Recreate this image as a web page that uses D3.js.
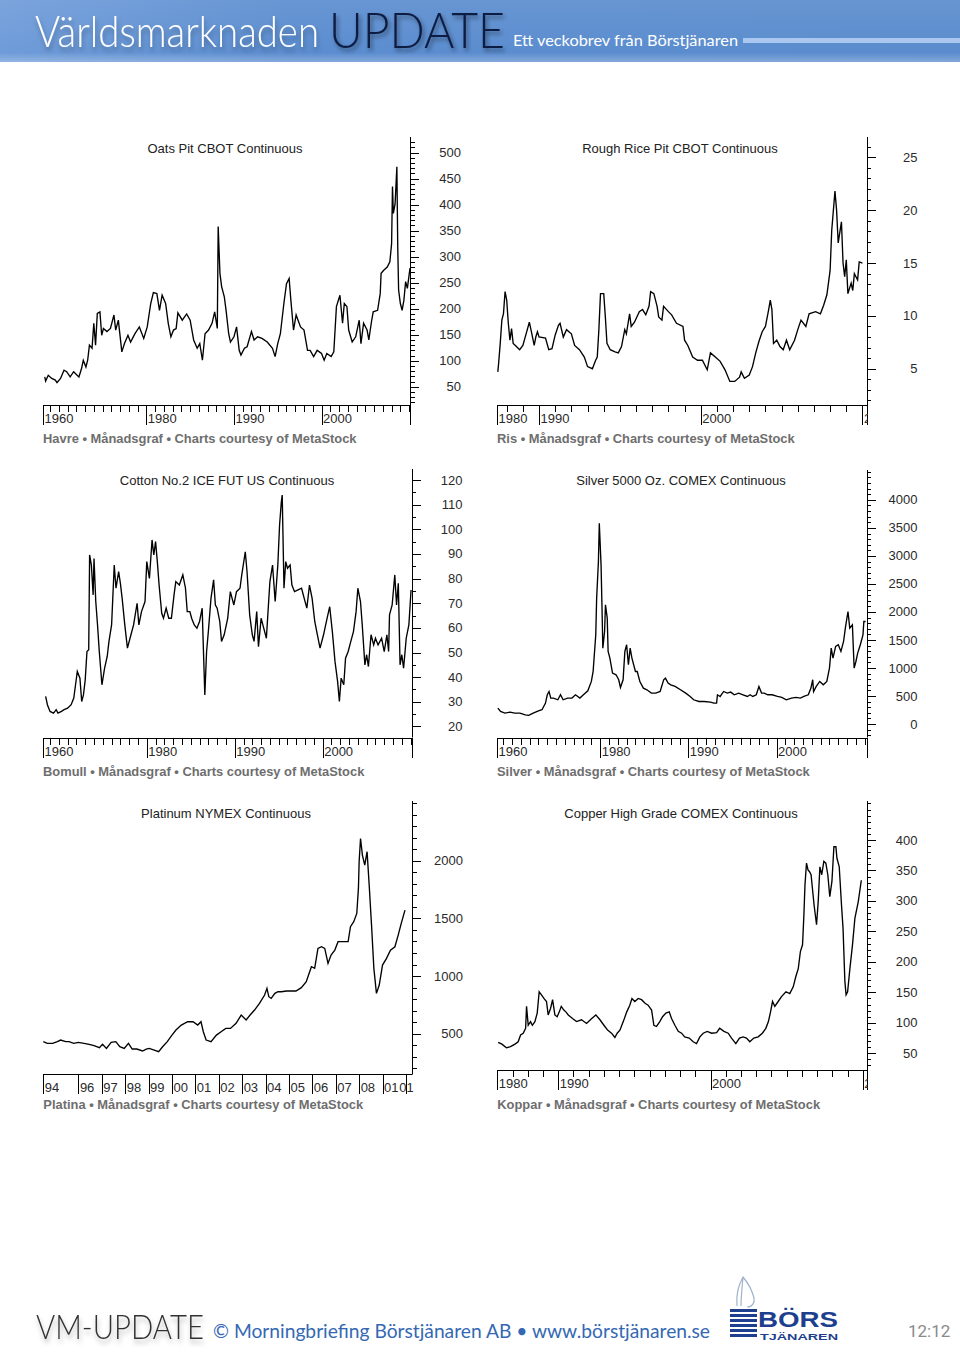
<!DOCTYPE html>
<html><head><meta charset="utf-8">
<script src="https://cdn.jsdelivr.net/npm/d3@7"></script>
<style>body{margin:0;background:#fff;}svg{display:block}</style>
</head><body>
<svg id="c" width="960" height="1357"></svg>
<script>
// ---------------- DATA ----------------
const oatsData = [[1968.4,69],[1968.5,61],[1968.8,72],[1969.2,66],[1969.6,63],[1969.8,58],[1970.2,66],[1970.6,82],[1970.9,79],[1971.3,69],[1971.7,79],[1972.3,69],[1972.6,85],[1972.8,101],[1973.1,88],[1973.3,101],[1973.5,130],[1973.8,124],[1974.0,172],[1974.2,130],[1974.4,191],[1974.7,194],[1974.9,149],[1975.1,162],[1975.5,156],[1975.9,162],[1976.3,188],[1976.5,159],[1976.8,178],[1977.2,117],[1977.5,133],[1977.9,149],[1978.2,136],[1978.7,152],[1979.2,165],[1979.7,143],[1980.1,165],[1980.5,210],[1980.8,231],[1981.2,229],[1981.5,197],[1981.8,226],[1982.2,210],[1982.5,172],[1982.8,146],[1983.1,159],[1983.4,162],[1983.6,192],[1984.1,178],[1984.6,190],[1985.0,178],[1985.4,140],[1985.8,124],[1986.1,133],[1986.4,101],[1986.7,152],[1987.1,159],[1987.5,172],[1987.8,194],[1988.1,162],[1988.2,358],[1988.4,268],[1988.6,242],[1988.9,223],[1989.1,197],[1989.4,152],[1989.6,136],[1990.0,146],[1990.3,165],[1990.6,120],[1990.8,111],[1991.2,124],[1991.5,127],[1992.0,156],[1992.3,140],[1992.7,146],[1993.2,143],[1993.8,136],[1994.4,124],[1994.7,108],[1995.0,133],[1995.3,152],[1995.7,210],[1996.0,248],[1996.3,258],[1996.5,216],[1996.8,159],[1997.1,188],[1997.6,165],[1998.0,159],[1998.4,120],[1998.7,120],[1999.1,108],[1999.5,120],[2000.0,114],[2000.3,101],[2000.6,114],[2001.1,108],[2001.4,117],[2001.7,204],[2002.1,226],[2002.4,172],[2002.6,210],[2002.9,204],[2003.1,159],[2003.5,136],[2003.9,146],[2004.3,178],[2004.5,133],[2004.8,172],[2005.2,159],[2005.4,140],[2005.7,175],[2005.9,194],[2006.4,197],[2006.7,229],[2006.8,268],[2007.1,274],[2007.5,280],[2007.8,290],[2008.0,325],[2008.1,435],[2008.2,383],[2008.4,402],[2008.6,473],[2008.7,319],[2008.8,236],[2009.0,210],[2009.2,197],[2009.4,216],[2009.6,252],[2009.8,239],[2010.1,278]];
const oatsYLabels = [50,100,150,200,250,300,350,400,450,500];
const oatsXLabels = [[1968.2,"1960"],[1980,"1980"],[1990,"1990"],[2000,"2000"]];

const riceData = [[1987.45,4.7],[1987.5,5.5],[1987.6,7.4],[1987.7,9.6],[1987.8,10.2],[1987.9,12.3],[1988.0,11.5],[1988.1,9.3],[1988.2,7.7],[1988.3,8.8],[1988.4,7.4],[1988.6,7.1],[1988.8,6.8],[1989.0,7.2],[1989.2,8.3],[1989.4,9.4],[1989.5,8.7],[1989.7,7.2],[1989.8,8.0],[1989.9,8.5],[1990.0,8.0],[1990.4,7.9],[1990.6,6.8],[1990.8,6.9],[1991.0,8.2],[1991.2,9.1],[1991.3,9.3],[1991.5,8.0],[1991.7,8.7],[1992.0,8.3],[1992.2,7.2],[1992.5,6.8],[1992.8,6.1],[1993.0,5.2],[1993.3,5.0],[1993.5,5.8],[1993.6,6.1],[1993.7,8.7],[1993.8,12.1],[1994.0,12.1],[1994.1,9.9],[1994.2,7.4],[1994.4,6.8],[1994.7,6.6],[1994.9,6.5],[1995.1,7.1],[1995.3,8.7],[1995.4,8.3],[1995.6,10.2],[1995.7,9.0],[1995.9,9.4],[1996.2,10.4],[1996.4,10.6],[1996.6,10.1],[1996.8,10.9],[1996.9,12.3],[1997.1,12.1],[1997.3,10.9],[1997.4,9.9],[1997.6,9.6],[1997.7,10.9],[1998.0,10.4],[1998.2,10.1],[1998.5,9.3],[1998.9,9.0],[1999.0,7.7],[1999.2,7.2],[1999.5,6.1],[1999.8,5.8],[2000.1,5.8],[2000.4,4.9],[2000.6,6.5],[2000.9,6.1],[2001.2,5.7],[2001.5,4.9],[2001.8,3.8],[2002.1,3.8],[2002.4,4.2],[2002.5,4.7],[2002.7,4.1],[2003.0,4.4],[2003.2,5.2],[2003.4,6.5],[2003.6,7.6],[2003.8,8.5],[2004.0,9.0],[2004.2,10.6],[2004.3,11.5],[2004.4,10.6],[2004.5,7.4],[2004.7,7.7],[2004.9,7.1],[2005.1,6.8],[2005.3,7.7],[2005.5,6.8],[2005.8,7.7],[2006.0,8.7],[2006.2,9.6],[2006.5,9.0],[2006.7,10.2],[2007.1,10.4],[2007.4,10.2],[2007.6,11.0],[2007.8,12.0],[2008.0,14.3],[2008.1,18.1],[2008.3,21.8],[2008.4,20.0],[2008.5,16.9],[2008.7,18.9],[2008.8,15.0],[2008.9,13.7],[2009.0,15.3],[2009.1,12.1],[2009.3,13.1],[2009.4,12.4],[2009.5,14.0],[2009.7,13.4],[2009.8,15.1],[2010.0,15.0]];
const riceYLabels = [5,10,15,20,25];
const riceXLabels = [[1987.4,"1980"],[1990,"1990"],[2000,"2000"],[2010,"2010"]];

const cottonData = [[1968.5,32.2],[1968.7,28.8],[1969.0,26.1],[1969.4,25.4],[1969.7,26.8],[1969.9,25.4],[1970.3,26.1],[1970.6,26.8],[1971.0,27.4],[1971.4,28.8],[1971.7,31.5],[1971.9,36.9],[1972.1,42.3],[1972.4,39.6],[1972.6,30.1],[1972.8,32.8],[1973.0,38.9],[1973.2,50.4],[1973.4,51.1],[1973.5,89.6],[1973.7,85.5],[1973.9,73.4],[1974.0,88.2],[1974.2,70.7],[1974.4,61.2],[1974.6,50.4],[1974.9,36.9],[1975.2,43.6],[1975.5,48.4],[1975.7,54.5],[1976.0,61.2],[1976.3,85.5],[1976.5,76.1],[1976.8,82.8],[1977.0,78.1],[1977.2,72.0],[1977.5,61.2],[1977.8,51.8],[1978.2,57.2],[1978.5,61.2],[1978.9,70.0],[1979.1,61.2],[1979.4,66.6],[1979.8,70.7],[1980.0,86.9],[1980.3,80.1],[1980.6,95.7],[1980.8,89.6],[1981.0,95.0],[1981.2,86.9],[1981.4,77.4],[1981.7,65.9],[1981.9,63.9],[1982.2,68.0],[1982.5,63.9],[1982.8,63.9],[1983.1,73.4],[1983.3,78.8],[1983.7,77.4],[1984.1,81.5],[1984.4,76.1],[1984.6,66.6],[1984.9,66.6],[1985.1,63.9],[1985.4,61.2],[1985.7,59.9],[1986.0,62.6],[1986.3,68.0],[1986.4,55.8],[1986.6,32.8],[1986.8,50.4],[1987.0,58.5],[1987.3,72.0],[1987.6,79.5],[1987.8,69.3],[1988.0,68.0],[1988.3,62.6],[1988.5,54.5],[1988.8,57.2],[1989.2,63.9],[1989.5,74.7],[1989.9,69.3],[1990.2,74.7],[1990.6,76.1],[1990.8,81.5],[1991.2,90.9],[1991.4,82.8],[1991.7,65.3],[1992.0,57.2],[1992.2,54.5],[1992.5,66.6],[1992.7,52.4],[1993.0,63.9],[1993.2,61.2],[1993.6,55.8],[1994.0,78.8],[1994.3,85.5],[1994.6,70.7],[1994.9,85.5],[1995.1,101.8],[1995.3,111.2],[1995.4,113.9],[1995.6,76.1],[1995.8,86.9],[1996.0,84.2],[1996.3,85.5],[1996.5,77.4],[1996.8,74.7],[1997.2,75.4],[1997.6,76.1],[1997.9,72.0],[1998.2,68.0],[1998.5,77.4],[1998.8,72.0],[1999.1,62.6],[1999.4,57.2],[1999.7,51.8],[2000.1,57.2],[2000.5,63.9],[2000.8,68.6],[2001.1,58.5],[2001.4,46.4],[2001.7,38.2],[2001.9,30.1],[2002.1,39.6],[2002.4,36.9],[2002.6,47.7],[2002.9,50.4],[2003.2,54.5],[2003.5,58.5],[2003.8,66.6],[2004.0,76.1],[2004.3,70.7],[2004.5,61.2],[2004.8,45.0],[2005.0,49.1],[2005.2,44.3],[2005.5,57.2],[2005.8,53.1],[2006.0,55.8],[2006.3,53.1],[2006.7,55.8],[2007.0,50.4],[2007.3,57.2],[2007.5,50.4],[2007.6,65.3],[2007.9,69.3],[2008.2,81.5],[2008.4,69.3],[2008.6,78.1],[2008.8,45.0],[2009.0,49.1],[2009.2,43.6],[2009.5,55.8],[2009.8,61.2],[2010.05,75.4]];
const cottonYLabels = [20,30,40,50,60,70,80,90,100,110,120];
const cottonXLabels = [[1968.2,"1960"],[1980,"1980"],[1990,"1990"],[2000,"2000"]];

const silverData = [[1968.4,285],[1968.7,226],[1969.2,196],[1969.8,214],[1970.3,196],[1970.9,196],[1971.5,166],[1971.9,155],[1972.4,196],[1973.0,238],[1973.4,256],[1973.8,374],[1974.0,523],[1974.2,582],[1974.4,464],[1974.7,464],[1975.2,434],[1975.5,523],[1975.8,434],[1976.3,464],[1976.8,464],[1977.2,523],[1977.7,464],[1978.1,523],[1978.6,594],[1979.0,761],[1979.2,939],[1979.5,1593],[1979.6,2247],[1979.8,2901],[1979.9,3584],[1980.1,2841],[1980.2,2128],[1980.3,1355],[1980.5,1652],[1980.6,2128],[1980.8,1890],[1980.9,1296],[1981.1,1177],[1981.4,909],[1981.8,880],[1982.1,791],[1982.3,654],[1982.6,791],[1982.8,1296],[1983.0,1415],[1983.2,1058],[1983.4,1355],[1983.6,1177],[1984.0,939],[1984.2,939],[1984.5,761],[1984.9,642],[1985.3,612],[1985.8,553],[1986.3,553],[1986.8,582],[1987.2,791],[1987.4,820],[1987.7,731],[1988.0,701],[1988.5,672],[1989.1,612],[1989.7,553],[1990.2,493],[1990.6,434],[1991.2,404],[1991.8,404],[1992.5,392],[1992.9,374],[1993.2,374],[1993.3,523],[1993.6,493],[1994.0,582],[1994.4,553],[1994.8,571],[1995.2,523],[1995.7,553],[1996.2,523],[1996.7,493],[1997.0,523],[1997.3,493],[1997.7,523],[1998.0,672],[1998.3,553],[1998.6,553],[1999.0,523],[1999.5,523],[2000.1,493],[2000.6,476],[2001.1,434],[2001.7,464],[2002.2,476],[2002.7,464],[2003.1,493],[2003.6,523],[2003.9,642],[2004.1,791],[2004.2,582],[2004.5,672],[2004.9,761],[2005.3,701],[2005.7,761],[2006.0,999],[2006.2,1355],[2006.4,1177],[2006.7,1385],[2007.0,1415],[2007.3,1296],[2007.6,1474],[2007.8,1712],[2008.1,2009],[2008.3,1712],[2008.6,1771],[2008.8,999],[2009.0,1117],[2009.2,1266],[2009.5,1415],[2009.8,1593],[2009.9,1831],[2010.1,1831]];
const silverYLabels = [0,500,1000,1500,2000,2500,3000,3500,4000];
const silverXLabels = [[1968.3,"1960"],[1980,"1980"],[1990,"1990"],[2000,"2000"]];

const platinumData = [[1994.5,431],[1994.67,416],[1994.9,416],[1995.1,431],[1995.24,445],[1995.46,431],[1995.6,431],[1995.8,416],[1996.0,425],[1996.24,416],[1996.46,408],[1996.67,396],[1996.9,379],[1997.03,408],[1997.2,373],[1997.4,425],[1997.6,431],[1997.77,387],[1997.96,373],[1998.14,416],[1998.3,367],[1998.5,367],[1998.74,350],[1998.9,367],[1999.03,373],[1999.24,358],[1999.43,344],[1999.6,387],[1999.8,431],[2000.0,488],[2000.17,532],[2000.4,575],[2000.67,604],[2000.9,604],[2001.1,575],[2001.24,604],[2001.34,517],[2001.46,445],[2001.67,431],[2001.9,488],[2002.1,517],[2002.3,546],[2002.5,546],[2002.74,590],[2002.96,662],[2003.17,619],[2003.34,662],[2003.53,705],[2003.74,763],[2003.96,835],[2004.06,893],[2004.14,821],[2004.24,806],[2004.4,850],[2004.53,864],[2004.67,864],[2004.9,870],[2005.1,870],[2005.3,870],[2005.53,899],[2005.74,951],[2005.96,1081],[2006.1,1067],[2006.24,1240],[2006.39,1254],[2006.53,1240],[2006.67,1110],[2006.8,1182],[2006.96,1225],[2007.1,1298],[2007.3,1298],[2007.53,1298],[2007.63,1428],[2007.77,1471],[2007.9,1543],[2007.97,1760],[2008.0,1991],[2008.06,2193],[2008.14,2049],[2008.24,1962],[2008.34,2078],[2008.43,1789],[2008.53,1442],[2008.63,1067],[2008.74,850],[2008.86,922],[2009.0,1095],[2009.17,1153],[2009.34,1225],[2009.53,1254],[2009.67,1355],[2009.8,1457],[2009.96,1572]];
const platinumYLabels = [500,1000,1500,2000];
const platinumXLabels = [[1994.5,"94"],[1996,"96"],[1997,"97"],[1998,"98"],[1999,"99"],[2000,"00"],[2001,"01"],[2002,"02"],[2003,"03"],[2004,"04"],[2005,"05"],[2006,"06"],[2007,"07"],[2008,"08"],[2009,"01"],[2009.65,"01"]];
const platinumXTicks = [1994.5,1996,1997,1998,1999,2000,2001,2002,2003,2004,2005,2006,2007,2008,2009,2010];

const copperData = [[1986.06,68],[1986.3,65],[1986.6,59],[1986.87,61],[1987.16,65],[1987.37,69],[1987.53,80],[1987.7,83],[1987.86,91],[1987.92,127],[1988.03,96],[1988.18,102],[1988.3,96],[1988.47,102],[1988.62,116],[1988.75,151],[1988.9,146],[1989.06,140],[1989.23,135],[1989.34,113],[1989.5,124],[1989.63,138],[1989.78,113],[1989.93,110],[1990.07,118],[1990.2,127],[1990.37,121],[1990.5,118],[1990.66,113],[1990.94,107],[1991.2,102],[1991.53,105],[1991.86,99],[1992.2,107],[1992.47,113],[1992.74,105],[1993.0,96],[1993.24,88],[1993.5,83],[1993.72,76],[1993.87,83],[1994.05,88],[1994.27,102],[1994.5,118],[1994.7,129],[1994.84,140],[1995.03,135],[1995.25,140],[1995.47,138],[1995.7,132],[1995.9,129],[1996.13,121],[1996.28,96],[1996.45,94],[1996.67,102],[1996.85,110],[1997.07,116],[1997.29,118],[1997.44,107],[1997.66,96],[1997.88,86],[1998.1,83],[1998.3,77],[1998.6,75],[1998.86,69],[1999.08,66],[1999.3,77],[1999.52,83],[1999.78,86],[2000.07,83],[2000.4,84],[2000.6,91],[2000.88,86],[2001.16,83],[2001.38,75],[2001.66,66],[2001.9,75],[2002.14,77],[2002.36,75],[2002.58,69],[2002.84,75],[2003.13,77],[2003.4,83],[2003.63,91],[2003.8,102],[2003.94,118],[2004.07,135],[2004.22,127],[2004.44,135],[2004.66,143],[2004.95,151],[2005.2,148],[2005.43,159],[2005.6,176],[2005.76,189],[2005.9,217],[2006.04,228],[2006.13,277],[2006.2,326],[2006.3,362],[2006.4,351],[2006.5,348],[2006.6,343],[2006.8,293],[2006.96,261],[2007.07,299],[2007.18,356],[2007.3,343],[2007.44,365],[2007.57,362],[2007.7,343],[2007.83,307],[2007.97,332],[2008.1,389],[2008.23,389],[2008.3,370],[2008.45,356],[2008.6,293],[2008.7,255],[2008.82,168],[2008.9,146],[2009.0,151],[2009.15,189],[2009.32,228],[2009.48,272],[2009.7,299],[2009.9,334]];
const copperYLabels = [50,100,150,200,250,300,350,400];
const copperXLabels = [[1986.0,"1980"],[1990,"1990"],[2000,"2000"],[2010,"2010"]];

const captionTail = " • Månadsgraf • Charts courtesy of MetaStock";

// ---------------- LAYOUT ----------------
const panels = [
  {data:oatsData, title:"Oats Pit CBOT Continuous", name:"Havre", xDomain:[1968.2,2010.1], yDomain:[15,530], yLabels:oatsYLabels, yMinor:10, xLabels:oatsXLabels,
   box:{l:43,r:410,t:137,b:405}, titleX:225, titleY:153, capY:442.5},
  {data:riceData, title:"Rough Rice Pit CBOT Continuous", name:"Ris", xDomain:[1987.4,2010.25], yDomain:[1.57,26.92], yLabels:riceYLabels, yMinor:1, xLabels:riceXLabels,
   box:{l:497,r:866.5,t:137,b:405}, titleX:680, titleY:153, capY:442.5},
  {data:cottonData, title:"Cotton No.2 ICE FUT US Continuous", name:"Bomull", xDomain:[1968.2,2010.1], yDomain:[15.5,124.5], yLabels:cottonYLabels, yMinor:5, xLabels:cottonXLabels,
   box:{l:43,r:411.5,t:469,b:737.5}, titleX:227, titleY:485, capY:775.5},
  {data:silverData, title:"Silver 5000 Oz. COMEX Continuous", name:"Silver", xDomain:[1968.3,2010.2], yDomain:[-239,4533], yLabels:silverYLabels, yMinor:100, xLabels:silverXLabels,
   box:{l:497,r:866.5,t:470,b:737.5}, titleX:681, titleY:485, capY:775.5},
  {data:platinumData, title:"Platinum  NYMEX Continuous", name:"Platina", xDomain:[1994.5,2010.26], yDomain:[148,2518], yLabels:platinumYLabels, yMinor:100, xLabels:platinumXLabels, xTicks:platinumXTicks, noMinorX:true,
   box:{l:43.3,r:412,t:801,b:1074.3}, titleX:226, titleY:818, capY:1108.5},
  {data:copperData, title:"Copper High Grade COMEX Continuous", name:"Koppar", xDomain:[1986.0,2010.24], yDomain:[22.6,464], yLabels:copperYLabels, yMinor:10, xLabels:copperXLabels,
   box:{l:497.3,r:866.5,t:801,b:1070}, titleX:681, titleY:818, capY:1108.5}
];

const svg = d3.select("#c");
const defs = svg.append("defs");

// ---------------- HEADER ----------------
const hg = defs.append("linearGradient").attr("id","hg").attr("x1",0).attr("x2",1).attr("y1",0).attr("y2",0);
hg.append("stop").attr("offset",0).attr("stop-color","#6f9cd9");
hg.append("stop").attr("offset",0.3).attr("stop-color","#5b8dd0");
hg.append("stop").attr("offset",1).attr("stop-color","#5a8ccd");
const hv = defs.append("linearGradient").attr("id","hv").attr("x1",0).attr("x2",0).attr("y1",0).attr("y2",1);
hv.append("stop").attr("offset",0).attr("stop-color","#ffffff").attr("stop-opacity",0.08);
hv.append("stop").attr("offset",0.85).attr("stop-color","#ffffff").attr("stop-opacity",0);
hv.append("stop").attr("offset",1).attr("stop-color","#ffffff").attr("stop-opacity",0.25);
const sh = defs.append("filter").attr("id","sh").attr("x","-10%").attr("y","-20%").attr("width","130%").attr("height","160%");
sh.append("feDropShadow").attr("dx",2).attr("dy",3).attr("stdDeviation",2).attr("flood-color","#000").attr("flood-opacity",0.45);
const sh2 = defs.append("filter").attr("id","sh2").attr("x","-10%").attr("y","-20%").attr("width","130%").attr("height","170%");
sh2.append("feDropShadow").attr("dx",1).attr("dy",4).attr("stdDeviation",2.5).attr("flood-color","#000").attr("flood-opacity",0.3);

svg.append("rect").attr("x",0).attr("y",0).attr("width",960).attr("height",62).attr("fill","url(#hg)");
svg.append("rect").attr("x",0).attr("y",0).attr("width",960).attr("height",62).attr("fill","url(#hv)");
svg.append("text").attr("x",35).attr("y",47).attr("font-family","Lato, 'Open Sans', sans-serif").attr("font-weight",300)
  .attr("font-size",44).attr("fill","#fff").attr("textLength",284).attr("lengthAdjust","spacingAndGlyphs").attr("filter","url(#sh2)").text("Världsmarknaden");
svg.append("text").attr("x",329).attr("y",48).attr("font-family","Lato, 'Open Sans', sans-serif").attr("font-weight",300)
  .attr("font-size",49).attr("fill","#0c1d42").attr("textLength",176).attr("lengthAdjust","spacingAndGlyphs").attr("filter","url(#sh)").text("UPDATE");
svg.append("text").attr("x",513).attr("y",46).attr("font-family","Lato, 'Open Sans', sans-serif")
  .attr("font-size",16).attr("fill","#fff").attr("textLength",225).attr("lengthAdjust","spacingAndGlyphs").text("Ett veckobrev från Börstjänaren");
svg.append("rect").attr("x",743).attr("y",38).attr("width",217).attr("height",5).attr("fill","#a9c7ef");

// ---------------- PANELS ----------------
const FONT = "'Liberation Sans', Arial, sans-serif";
panels.forEach((p,i) => {
  const g = svg.append("g");
  const x = d3.scaleLinear().domain(p.xDomain).range([p.box.l, p.box.r]);
  const y = d3.scaleLinear().domain(p.yDomain).range([p.box.b, p.box.t]);

  // y axis: minor and major ticks on the right
  const minorY = d3.range(Math.ceil(p.yDomain[0]/p.yMinor)*p.yMinor, p.yDomain[1], p.yMinor)
     .filter(v => !p.yLabels.some(l => Math.abs(l - v) < 1e-9));
  const yMinorAxis = g.append("g").attr("transform",`translate(${p.box.r},0)`)
     .call(d3.axisRight(y).tickValues(minorY).tickSize(4.5).tickFormat(""));
  yMinorAxis.select(".domain").remove();
  const yMajorAxis = g.append("g").attr("transform",`translate(${p.box.r},0)`)
     .call(d3.axisRight(y).tickValues(p.yLabels).tickSize(9).tickFormat(""));
  yMajorAxis.select(".domain").remove();
  g.append("line").attr("x1",Math.round(p.box.r)+0.5).attr("x2",Math.round(p.box.r)+0.5)
    .attr("y1",p.box.t).attr("y2",p.box.b).attr("stroke","#000");
  g.selectAll("text.yl").data(p.yLabels).join("text").attr("class","yl")
    .attr("x",p.box.r+51).attr("y",d=>y(d)+4.5).attr("text-anchor","end")
    .attr("font-family",FONT).attr("font-size",13).attr("fill","#2a2a2a").text(d=>d);

  // x axis
  const yrs = d3.range(Math.ceil(p.xDomain[0]), p.xDomain[1]+1e-9, 1);
  if (!p.noMinorX) {
    const xm = g.append("g").attr("transform",`translate(0,${p.box.b})`)
      .call(d3.axisBottom(x).tickValues(yrs).tickSize(7).tickFormat(""));
    xm.select(".domain").remove();
  }
  const majorX = p.xTicks ? p.xTicks : p.xLabels.map(d=>d[0]).concat([p.xDomain[1]]);
  const xM = g.append("g").attr("transform",`translate(0,${p.box.b})`)
    .call(d3.axisBottom(x).tickValues(majorX).tickSize(20).tickFormat(""));
  xM.select(".domain").remove();
  g.append("line").attr("x1",p.box.l).attr("x2",p.box.r+0.5)
    .attr("y1",Math.round(p.box.b)+0.5).attr("y2",Math.round(p.box.b)+0.5).attr("stroke","#000");
  const clipId = "clip"+i;
  defs.append("clipPath").attr("id",clipId).append("rect")
    .attr("x",p.box.l-2).attr("y",p.box.b).attr("width",p.box.r-p.box.l+3.5).attr("height",30);
  g.append("g").attr("clip-path",`url(#${clipId})`)
    .selectAll("text").data(p.xLabels).join("text")
    .attr("x",d=>x(d[0])+1.5).attr("y",p.box.b+18)
    .attr("font-family",FONT).attr("font-size",13).attr("fill","#2a2a2a").text(d=>d[1]);
  g.selectAll(".tick line").attr("stroke","#000");
  g.selectAll("g").attr("shape-rendering","crispEdges");

  // title
  g.append("text").attr("x",p.titleX).attr("y",p.titleY).attr("text-anchor","middle")
    .attr("font-family",FONT).attr("font-size",13).attr("fill","#222").text(p.title);

  // data line
  g.append("path").datum(p.data)
    .attr("d", d3.line().x(d=>x(d[0])).y(d=>y(d[1])))
    .attr("fill","none").attr("stroke","#000").attr("stroke-width",1.35).attr("stroke-linejoin","miter");

  // caption
  g.append("text").attr("x",p.box.l).attr("y",p.capY)
    .attr("font-family",FONT).attr("font-weight","bold").attr("font-size",12.9).attr("fill","#6e6e6e")
    .text(p.name + captionTail);
});

// ---------------- FOOTER ----------------
svg.append("text").attr("x",36).attr("y",1339).attr("font-family","Lato, 'Open Sans', sans-serif").attr("font-weight",300)
  .attr("font-size",34).attr("fill","#333").attr("textLength",168).attr("lengthAdjust","spacingAndGlyphs").attr("filter","url(#sh2)").text("VM-UPDATE");
svg.append("text").attr("x",213).attr("y",1338).attr("font-family","Lato, 'Open Sans', sans-serif")
  .attr("font-size",20).attr("fill","#3468b3").attr("textLength",497).attr("lengthAdjust","spacingAndGlyphs")
  .text("© Morningbriefing Börstjänaren AB • www.börstjänaren.se");
// logo
const logo = svg.append("g");
[0,1,2,3,4,5].forEach(k => {
  logo.append("rect").attr("x",730).attr("y",1309+k*5).attr("width",27).attr("height",3).attr("fill","#1d3f8e");
});
logo.append("path").attr("d","M737,1306 C736,1296 738,1286 743,1277 C748,1283 752,1290 754,1298 C755,1303 752,1307 747,1307 M743,1277 C742,1288 741,1298 741,1306")
  .attr("fill","none").attr("stroke","#9fb2cc").attr("stroke-width",1.2);
logo.append("text").attr("x",758).attr("y",1327).attr("font-family",FONT).attr("font-weight","bold")
  .attr("font-size",22).attr("fill","#1d3f8e").attr("textLength",80).attr("lengthAdjust","spacingAndGlyphs").text("BÖRS");
logo.append("text").attr("x",760).attr("y",1339.5).attr("font-family",FONT).attr("font-weight","bold")
  .attr("font-size",9).attr("fill","#1d3f8e").attr("textLength",78).attr("lengthAdjust","spacingAndGlyphs").text("TJÄNAREN");
svg.append("text").attr("x",908).attr("y",1337).attr("font-family","Roboto, 'Liberation Sans', sans-serif")
  .attr("font-size",17).attr("fill","#8a8a8a").text("12:12");
</script>
</body></html>
